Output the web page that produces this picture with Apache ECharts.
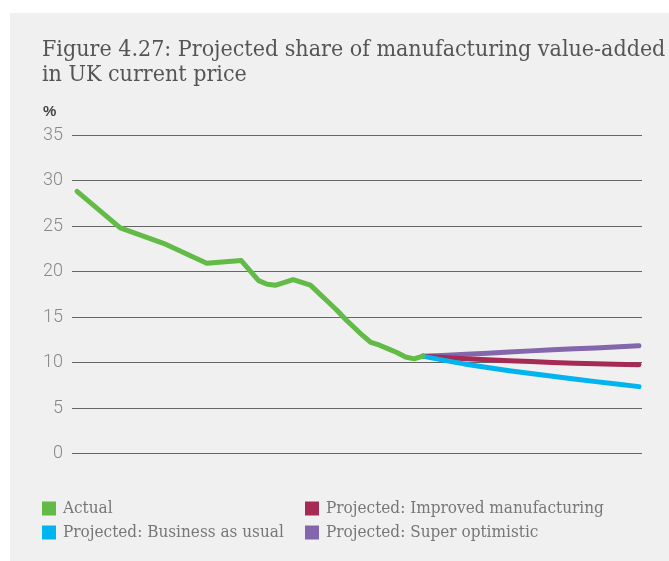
<!DOCTYPE html>
<html>
<head>
<meta charset="utf-8">
<script src="https://cdn.jsdelivr.net/npm/echarts@6/dist/echarts.min.js"></script>
<style>
html,body{margin:0;padding:0;background:#fff;}
#bg{position:absolute;left:10px;top:13px;width:659px;height:548px;background:#f0f0f0;}
#chart{position:absolute;left:0;top:0;width:669px;height:561px;}
</style>
</head>
<body>
<div id="bg"></div>
<div id="chart"></div>
<script>
// Actual series
const actualYears = [1970,1975,1980,1985,1989,1990,1991,1992,1993,1994,1995,1996,1997,1998,1999,2000,2001,2002,2003,2004,2005,2006,2007,2008,2009,2010];
const actualValues = [28.8,24.8,23.1,20.9,21.2,20.1,19.0,18.6,18.5,18.8,19.1,18.8,18.5,17.6,16.7,15.8,14.8,13.9,13.0,12.2,11.9,11.5,11.1,10.6,10.4,10.7];
// Projections
const projYears = [2010,2015,2020,2025,2030,2035];
const improvedValues = [10.7,10.4,10.2,10.0,9.85,9.75];
const businessValues = [10.7,9.8,9.1,8.5,7.9,7.35];
const superValues = [10.7,10.9,11.15,11.4,11.6,11.85];
const yTicks = [0,5,10,15,20,25,30,35];
const seriesNames = ['Actual','Projected: Improved manufacturing','Projected: Business as usual','Projected: Super optimistic'];

const pair = (xs, ys) => xs.map((x,i)=>[x, ys[i]]);
const chart = echarts.init(document.getElementById('chart'));
const serif = '"DejaVu Serif Condensed","DejaVu Serif",serif';
function line(name, data, color, z){
  return {name, type:'line', data, symbol:'none', smooth: name==='Actual'?false:0.3, z,
    lineStyle:{color, width:5, cap:'round', join:'round'}, itemStyle:{color}};
}
function leg(name, left, top){
  return {data:[name], left, top, padding:0, itemWidth:14, itemHeight:14, icon:'rect',
    textStyle:{fontFamily:serif, fontSize:17, color:'#777', padding:[0,0,0,2]}};
}
chart.setOption({
  backgroundColor:'transparent',
  animation:false,
  title:[
    {text:'Figure 4.27: Projected share of manufacturing value-added\nin UK current price', left:37, top:33, padding:[5,5,5,5],
     textStyle:{fontFamily:serif, fontSize:23, fontWeight:'normal', color:'#555', lineHeight:25}},
    {text:'%', left:38, top:99, textStyle:{fontFamily:'"Liberation Sans",Arial,sans-serif', fontSize:15, fontWeight:'bold', color:'#444'}}
  ],
  grid:{left:72, right:27, top:135, bottom:107.5},
  xAxis:{type:'value', min:1969.42, max:2035.35, show:false},
  yAxis:{type:'value', min:0, max:35, interval:5,
    axisLine:{show:false}, axisTick:{show:false},
    axisLabel:{color:'#888', fontSize:18, fontFamily:'Roboto,sans-serif', fontWeight:300, margin:9,
      formatter:v=> yTicks.includes(v)? String(v):''},
    splitLine:{lineStyle:{color:'#666', width:1}}},
  legend:[
    leg(seriesNames[0], 42, 500),
    leg(seriesNames[1], 305, 500),
    leg(seriesNames[2], 42, 524),
    leg(seriesNames[3], 305, 524)
  ],
  series:[
    line(seriesNames[0], pair(actualYears, actualValues), '#62bb46', 5),
    line(seriesNames[1], pair(projYears, improvedValues), '#a62a54', 3),
    line(seriesNames[2], pair(projYears, businessValues), '#00b5ef', 4),
    line(seriesNames[3], pair(projYears, superValues), '#8366ab', 2)
  ]
});
</script>
</body>
</html>
